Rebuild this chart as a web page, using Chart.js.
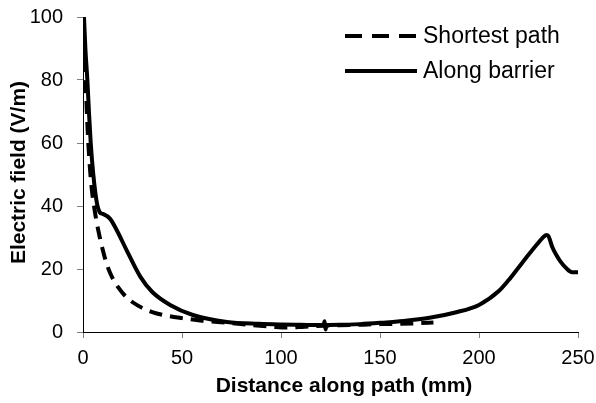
<!DOCTYPE html>
<html>
<head>
<meta charset="utf-8">
<script src="https://cdn.jsdelivr.net/npm/chart.js@4"></script>
<style>
  html, body { margin: 0; padding: 0; background: #fff; }
  #wrap { width: 596px; height: 403px; }
</style>
</head>
<body>
<div id="wrap"><canvas id="fieldChart" width="596" height="403"></canvas></div>
<script>
// data (x in mm, y in V/m)
const seriesNames = ['Shortest path', 'Along barrier'];

const shortestX = [0, 0.8, 1.6, 2.5, 3.5, 4.5, 5.8, 7, 8.5, 10, 12, 14.6, 18, 22, 28, 35, 42, 50, 60, 73, 85, 95, 103, 112, 122, 135, 150, 160, 170, 177];
const shortestY = [100, 88, 75, 62, 52, 45, 39, 34.6, 30, 26, 21.5, 17.5, 14, 11, 8.3, 6.3, 5.2, 4.4, 3.6, 2.9, 2.2, 1.7, 1.4, 1.7, 2.0, 2.2, 2.5, 2.6, 2.8, 3.0];

const barrierX = [0.5, 1.2, 2.2, 3, 3.9, 5.2, 7, 8.5, 10, 13.6, 17, 22, 29, 35, 44, 55.5, 72.7, 89, 100, 110, 121.5, 122, 122.5, 123, 130, 140, 150, 162, 175, 188, 200, 210, 215, 220, 225, 229, 232, 234, 235, 237, 239, 241, 244, 247, 250];
const barrierY = [100, 90, 80, 70, 60, 50, 41, 38, 37.5, 36, 32.4, 26, 17.5, 12.7, 8.6, 5.4, 3.2, 2.6, 2.4, 2.3, 2.2, 3.4, 0.8, 2.2, 2.3, 2.5, 2.9, 3.5, 4.5, 6.2, 8.6, 13, 16.5, 20.5, 24.5, 27.6, 29.8, 30.8, 30.5, 27, 24.5, 22.5, 20.3, 19, 19];

const xTicks = [0, 50, 100, 150, 200, 250];
const yTicks = [0, 20, 40, 60, 80, 100];

const fontFamily = "'Liberation Sans', Arial, sans-serif";

function toPoints(xs, ys) {
    return xs.map((x, i) => ({ x: x, y: ys[i] }));
}

// axis titles and the in-plot legend
const decorations = {
    id: 'decorations',
    afterDraw(chart) {
        const ctx = chart.ctx;
        const area = chart.chartArea;
        ctx.save();
        ctx.fillStyle = '#000';

        // x title
        ctx.font = `bold 21px ${fontFamily}`;
        ctx.textAlign = 'center';
        ctx.textBaseline = 'middle';
        ctx.fillText('Distance along path (mm)', 344, 386);

        // y title
        ctx.save();
        ctx.translate(19, (area.top + area.bottom) / 2 - 2);
        ctx.rotate(-Math.PI / 2);
        ctx.fillText('Electric field (V/m)', 0, 0);
        ctx.restore();

        // legend
        const lx0 = area.right - 233;
        const lx1 = area.right - 161;
        const rows = [
            { y: area.top + 19, dash: [17, 10], label: seriesNames[0] },
            { y: area.top + 54, dash: [], label: seriesNames[1] }
        ];
        ctx.font = `23px ${fontFamily}`;
        ctx.textAlign = 'left';
        rows.forEach(r => {
            ctx.beginPath();
            ctx.setLineDash(r.dash);
            ctx.lineWidth = 4;
            ctx.strokeStyle = '#000';
            ctx.moveTo(lx0, r.y);
            ctx.lineTo(lx1, r.y);
            ctx.stroke();
            ctx.setLineDash([]);
            ctx.fillText(r.label, lx1 + 6, r.y + 1);
        });
        ctx.restore();
    }
};

new Chart(document.getElementById('fieldChart'), {
    type: 'line',
    data: {
        datasets: [{
            label: seriesNames[0],
            data: toPoints(shortestX, shortestY),
            borderColor: '#000',
            borderWidth: 4,
            borderDash: [13, 8],
            pointRadius: 0,
            cubicInterpolationMode: 'monotone',
            fill: false
        }, {
            label: seriesNames[1],
            data: toPoints(barrierX, barrierY),
            borderColor: '#000',
            borderWidth: 4,
            pointRadius: 0,
            cubicInterpolationMode: 'monotone',
            fill: false
        }]
    },
    options: {
        responsive: false,
        animation: false,
        layout: {
            padding: { top: 17, right: 18, bottom: 0, left: 0 }
        },
        plugins: {
            legend: { display: false },
            tooltip: { enabled: false }
        },
        scales: {
            x: {
                type: 'linear',
                min: 0,
                max: 250,
                afterFit(scale) {
                    scale.height = 71;
                    scale.paddingLeft = 0;
                    scale.paddingRight = 0;
                },
                afterBuildTicks(scale) { scale.ticks = xTicks.map(v => ({ value: v })); },
                border: { color: '#000', width: 1 },
                grid: { drawOnChartArea: false, tickLength: 6, color: '#808080' },
                ticks: {
                    padding: 8,
                    color: '#000',
                    maxRotation: 0,
                    font: { size: 20, family: fontFamily }
                }
            },
            y: {
                min: 0,
                max: 100,
                afterFit(scale) {
                    scale.width = 83;
                    scale.paddingTop = 0;
                    scale.paddingBottom = 0;
                },
                afterBuildTicks(scale) { scale.ticks = yTicks.map(v => ({ value: v })); },
                border: { color: '#000', width: 1 },
                grid: { drawOnChartArea: false, tickLength: 6, color: '#808080' },
                ticks: {
                    padding: 14,
                    color: '#000',
                    font: { size: 20, family: fontFamily }
                }
            }
        }
    },
    plugins: [decorations]
});
</script>
</body>
</html>
